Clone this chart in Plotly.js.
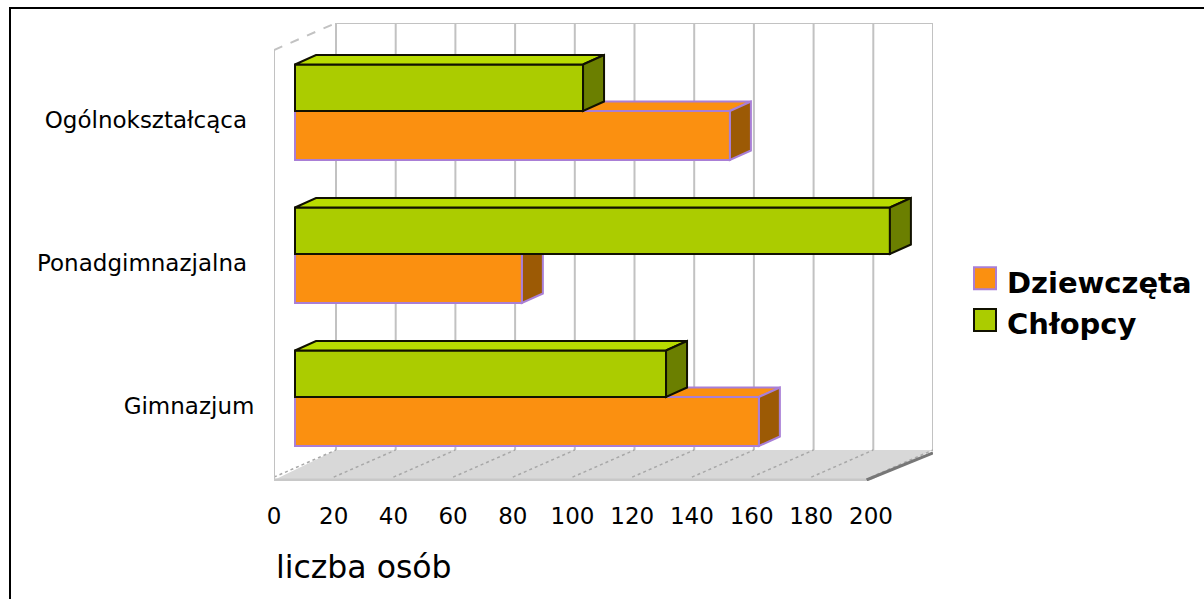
<!DOCTYPE html>
<html><head><meta charset="utf-8">
<script src="https://cdn.plot.ly/plotly-3.0.1.min.js"></script>
<style>html,body{margin:0;padding:0;background:#fff}#c{width:1204px;height:599px}</style>
</head><body><div id="c"></div>
<script>
const categories = ['Gimnazjum', 'Ponadgimnazjalna', 'Ogólnokształcąca'];
const tickLabels = ['Gimnazjum', 'Ponadgimnazjalna\u00A0', 'Ogólnokształcąca\u00A0'];
const dziewczeta = [155.4, 76, 145.7];
const chlopcy = [124.3, 199.3, 96.5];
const xTicks = [0, 20, 40, 60, 80, 100, 120, 140, 160, 180, 200];

// plot box in pixels
const L = 274, R = 933, T = 23, B = 481, W = 1204, H = 599;
const PXV = 2.985, PXC = 143, Y0PX = 397;
const xRange = [0, (R - L) / PXV];
const yRange = [(Y0PX - B) / PXC, (Y0PX - T) / PXC];
const wallDx = 62 / PXV, wallDy = 27 / PXC, floorDy = 30 / PXC;
const barOff = 21 / PXV, barDx = 21 / PXV, barDy = 9.5 / PXC; // bar depth
const yPos = categories.map((_, i) => i);
const widthG = 46.5 / PXC, widthO = 49 / PXC;
const yFront = (Y0PX - 480) / PXC;
const yBack = yFront + floorDy;
const yWallTop = yRange[1] - wallDy;

const gray = '#c2c2c2';
function line(x, y, color, width, dash, xaxis) {
  return {type: 'scatter', mode: 'lines', x, y, xaxis: xaxis || 'x', yaxis: 'y', cliponaxis: false,
    line: {color, width, dash: dash || 'solid'}, showlegend: false, hoverinfo: 'skip'};
}
function poly(x, y, fill, color, width, xaxis) {
  return {type: 'scatter', mode: 'lines', x, y, fill: 'toself', fillcolor: fill, xaxis, yaxis: 'y', cliponaxis: false,
    line: {color, width}, showlegend: false, hoverinfo: 'skip'};
}
function faces(vals, y0s, h, offs, topFill, sideFill, color, xaxis) {
  const out = [];
  vals.forEach((v, i) => {
    const y0 = y0s[i], y1 = y0 + h;
    const a = offs, b = v + offs;
    out.push(poly([a, a + barDx, b + barDx, b, a], [y1, y1 + barDy, y1 + barDy, y1, y1], topFill, color, 2, xaxis));
    out.push(poly([b, b + barDx, b + barDx, b, b], [y1, y1 + barDy, y0 + barDy, y0, y1], sideFill, color, 2, xaxis));
  });
  return out;
}

const traces = [];
// floor
traces.push(poly([0, 200, 200 + wallDx, wallDx, 0], [yFront, yFront, yBack, yBack, yFront], '#d8d8d8', 'rgba(0,0,0,0)', 0, 'x'));
// back wall grid, with dotted continuation on the floor
xTicks.forEach(v => {
  traces.push(line([v + wallDx, v + wallDx], [yBack, yRange[1]], gray, 2));
  traces.push(line([v, v + wallDx], [yFront + 0.02, yBack], '#a8a8a8', 1.5, 'dot'));
});
// walls
traces.push(line([0, 0], [yFront, yWallTop], gray, 2));
traces.push(line([0, wallDx], [yWallTop, yRange[1]], gray, 2, 'dash'));
traces.push(line([wallDx, 200 + wallDx], [yRange[1], yRange[1]], gray, 2));
traces.push(line([0, 198.5], [yFront, yFront], '#c8c8c8', 3));
traces.push(line([198.5, 198.5 + wallDx + 1.5], [yFront, yFront + wallDy], '#777777', 3));
// orange depth faces behind the front bars
traces.push(...faces(dziewczeta, yPos.map(p => p - widthO), widthO, barOff, '#fb9010', '#9c5a05', '#a97fd6', 'x'));

// front faces
traces.push({type: 'bar', orientation: 'h', name: 'Dziewczęta', x: dziewczeta, y: yPos, width: widthO, offset: -widthO, xaxis: 'x2', yaxis: 'y',
  legendgroup: 'a', marker: {color: '#fb9010', line: {color: '#a97fd6', width: 2}}});
traces.push({type: 'bar', orientation: 'h', name: 'Chłopcy', x: chlopcy, y: yPos, width: widthG, offset: 0, xaxis: 'x2', yaxis: 'y',
  legendgroup: 'b', marker: {color: '#abcc00', line: {color: '#111100', width: 2}}});
traces.push(...faces(chlopcy, yPos, widthG, 0, '#b9dc00', '#6b7f00', '#111100', 'x2'));

const px = v => (v - L) / (R - L), py = v => (B - v) / (B - T);
const layout = {
  width: W, height: H, autosize: false, showlegend: true, paper_bgcolor: '#fff', plot_bgcolor: 'rgba(0,0,0,0)',
  font: {family: 'DejaVu Sans', color: '#000', size: 23},
  margin: {l: L, r: W - R, t: T, b: H - B, pad: 0, autoexpand: false},
  barmode: 'overlay',
  xaxis: {range: xRange, tickmode: 'array', tickvals: xTicks, ticktext: xTicks.map(String), showgrid: false, zeroline: false,
    showline: false, ticks: 'outside', ticklen: 14, tickcolor: 'rgba(0,0,0,0)', tickfont: {size: 23}, fixedrange: true},
  xaxis2: {overlaying: 'x', range: [-barOff, xRange[1] - barOff], visible: false, fixedrange: true},
  yaxis: {range: yRange, tickmode: 'array', tickvals: yPos.map(p => p - 9 / PXC), ticktext: tickLabels, showgrid: false, zeroline: false,
    showline: false, ticks: 'outside', ticklen: 14, tickcolor: 'rgba(0,0,0,0)', tickfont: {size: 23}, fixedrange: true},
  legend: {x: px(967), xanchor: 'left', y: py(256), yanchor: 'top', bgcolor: 'rgba(0,0,0,0)',
    font: {size: 29, family: 'DejaVu Sans', weight: 700}, traceorder: 'grouped', tracegroupgap: 1, itemwidth: 30, itemclick: false, itemdoubleclick: false},
  annotations: [{text: 'liczba osób', xref: 'paper', yref: 'paper', x: px(274), y: py(567),
    xanchor: 'left', yanchor: 'middle', showarrow: false, font: {size: 31.5}}],
  shapes: [
    {type: 'line', xref: 'paper', yref: 'paper', x0: px(9), x1: px(1204), y0: py(8), y1: py(8), line: {color: '#000', width: 2}, layer: 'below'},
    {type: 'line', xref: 'paper', yref: 'paper', x0: px(10), x1: px(10), y0: py(7), y1: py(599), line: {color: '#000', width: 2}, layer: 'below'}
  ]
};
Plotly.newPlot('c', traces, layout, {displayModeBar: false}).then(() => {
  document.querySelectorAll('#c .legendpoints path').forEach(p => p.setAttribute('d', 'M9,8H-13V-14H9Z'));
});
</script></body></html>
